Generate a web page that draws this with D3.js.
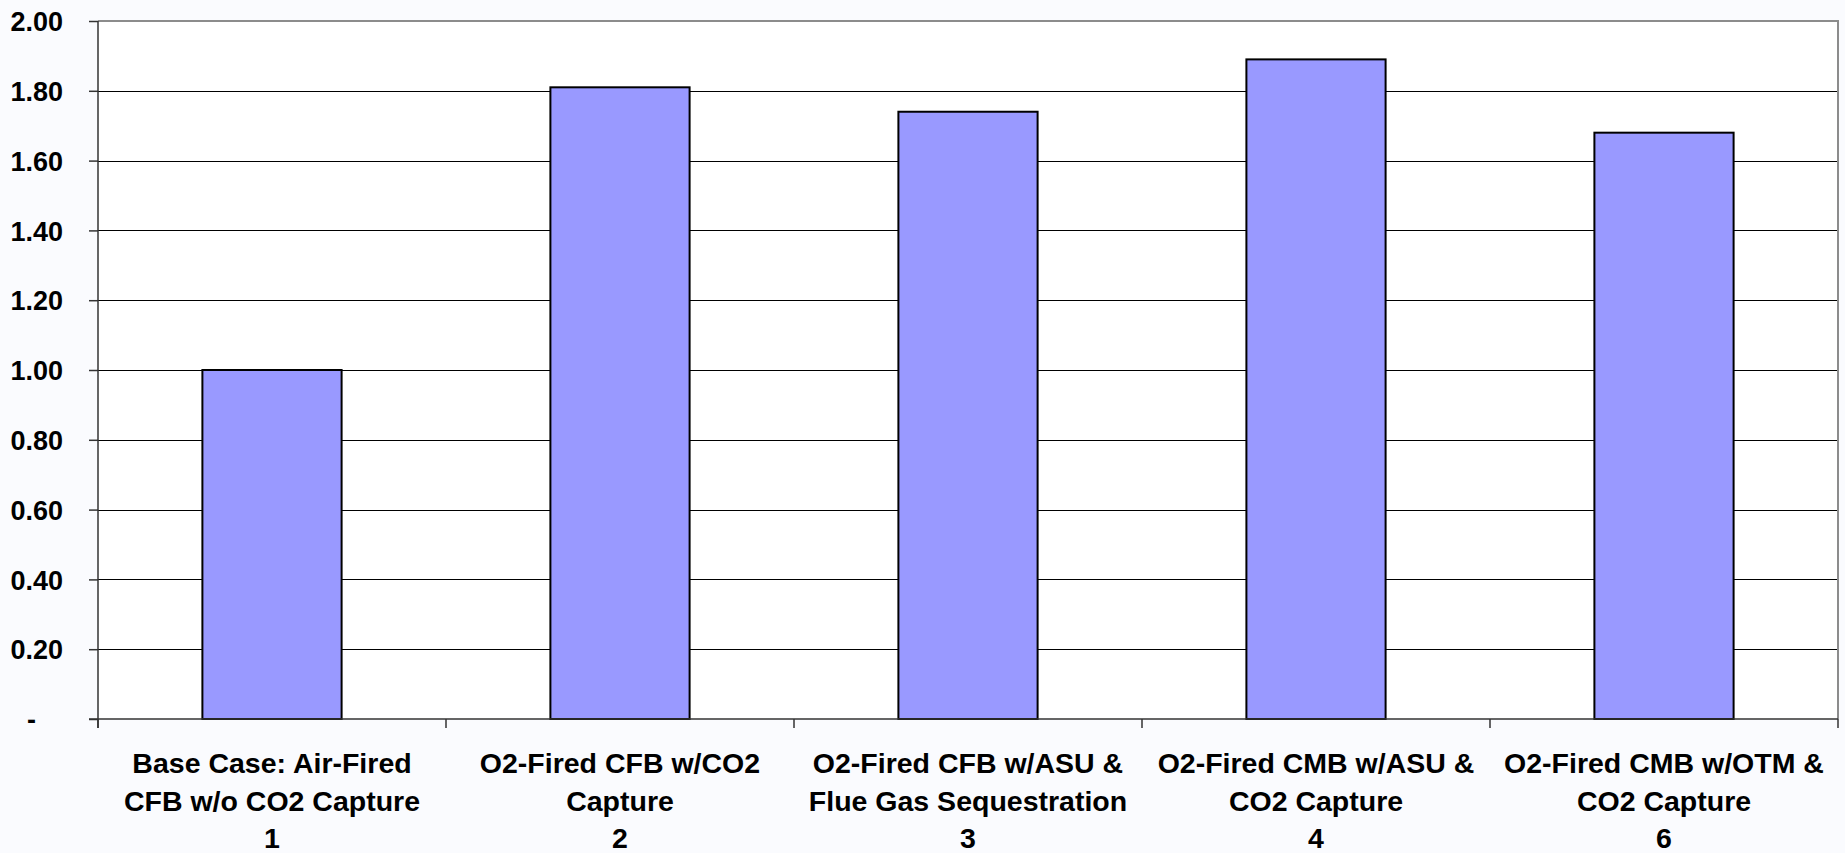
<!DOCTYPE html>
<html>
<head>
<meta charset="utf-8">
<script src="https://cdn.jsdelivr.net/npm/d3@7"></script>
<style>
  html, body { margin: 0; padding: 0; background: #fafbfe; }
  svg { display: block; }
  text { font-family: "Liberation Sans", Arial, sans-serif; font-weight: bold; fill: #000; }
</style>
</head>
<body>
<svg id="chart" width="1845" height="853"></svg>
<script>
// Relative cost index per case
const caseNumbers = ["1", "2", "3", "4", "6"];
const labelLine1 = [
  "Base Case: Air-Fired",
  "O2-Fired CFB w/CO2",
  "O2-Fired CFB w/ASU &",
  "O2-Fired CMB w/ASU &",
  "O2-Fired CMB w/OTM &"
];
const labelLine2 = [
  "CFB w/o CO2 Capture",
  "Capture",
  "Flue Gas Sequestration",
  "CO2 Capture",
  "CO2 Capture"
];
const values = [1.00, 1.81, 1.74, 1.89, 1.68];
const yTicks = [0, 0.2, 0.4, 0.6, 0.8, 1.0, 1.2, 1.4, 1.6, 1.8, 2.0];
const yTickLabels = ["-", "0.20", "0.40", "0.60", "0.80", "1.00", "1.20", "1.40", "1.60", "1.80", "2.00"];

const svg = d3.select("#chart");
const plot = { left: 98, top: 21, right: 1838, bottom: 719 };

const x = d3.scaleBand()
  .domain(caseNumbers)
  .range([plot.left, plot.right])
  .padding(0);

const y = d3.scaleLinear()
  .domain([0, 2])
  .range([plot.bottom, plot.top]);

// plot area
svg.append("rect")
  .attr("x", plot.left).attr("y", plot.top)
  .attr("width", plot.right - plot.left).attr("height", plot.bottom - plot.top)
  .attr("fill", "#ffffff");

// horizontal gridlines
svg.append("g")
  .selectAll("line")
  .data(yTicks.filter(d => d > 0 && d < 2))
  .join("line")
  .attr("x1", plot.left).attr("x2", plot.right)
  .attr("y1", d => Math.round(y(d)) + 0.5).attr("y2", d => Math.round(y(d)) + 0.5)
  .attr("stroke", "#000").attr("stroke-width", 1);

// plot border (top and right)
svg.append("path")
  .attr("d", `M${plot.left},${plot.top}H${plot.right}V${plot.bottom}`)
  .attr("fill", "none").attr("stroke", "#8c8c8c").attr("stroke-width", 2);

// bars
const barW = x.bandwidth() * 0.4;
svg.append("g")
  .selectAll("rect")
  .data(values)
  .join("rect")
  .attr("x", (d, i) => x(caseNumbers[i]) + (x.bandwidth() - barW) / 2)
  .attr("y", d => y(d))
  .attr("width", barW)
  .attr("height", d => y(0) - y(d))
  .attr("fill", "#9999ff")
  .attr("stroke", "#000")
  .attr("stroke-width", 2);

// y axis
const yAxis = svg.append("g")
  .attr("transform", `translate(${plot.left},0)`)
  .call(d3.axisLeft(y)
    .tickValues(yTicks)
    .tickSize(9)
    .tickPadding(26)
    .tickFormat((d, i) => yTickLabels[i]));
yAxis.select(".domain").attr("stroke", "#333").attr("stroke-width", 1.5)
  .attr("d", `M0,${plot.top}V${plot.bottom + 9}`);
yAxis.selectAll(".tick line").attr("stroke", "#333").attr("stroke-width", 1.5);
yAxis.selectAll(".tick text")
  .attr("font-size", 27)
  .attr("font-family", "'Liberation Sans', Arial, sans-serif")
  .attr("font-weight", "bold")
  .attr("fill", "#000")
  .attr("dy", "0.36em")
  .attr("dx", (d, i) => yTickLabels[i] === "-" ? -27 : 0);

// x axis: baseline with ticks at category boundaries
const xg = svg.append("g");
xg.append("line")
  .attr("x1", plot.left - 9).attr("x2", plot.right)
  .attr("y1", plot.bottom).attr("y2", plot.bottom)
  .attr("stroke", "#333").attr("stroke-width", 1.5);
const boundaries = caseNumbers.map(c => x(c)).concat([plot.right]);
xg.selectAll("line.bt")
  .data(boundaries)
  .join("line")
  .attr("class", "bt")
  .attr("x1", d => d).attr("x2", d => d)
  .attr("y1", plot.bottom).attr("y2", plot.bottom + 9)
  .attr("stroke", "#333").attr("stroke-width", 1.5);

// category labels
const labels = svg.append("g")
  .selectAll("text")
  .data(caseNumbers)
  .join("text")
  .attr("text-anchor", "middle")
  .attr("font-size", 28.5);
labels.each(function (c, i) {
  const t = d3.select(this);
  const cx = x(c) + x.bandwidth() / 2;
  [labelLine1[i], labelLine2[i], c].forEach((s, k) => {
    t.append("tspan").attr("x", cx).attr("y", 773 + k * 37.5).text(s);
  });
});
</script>
</body>
</html>
